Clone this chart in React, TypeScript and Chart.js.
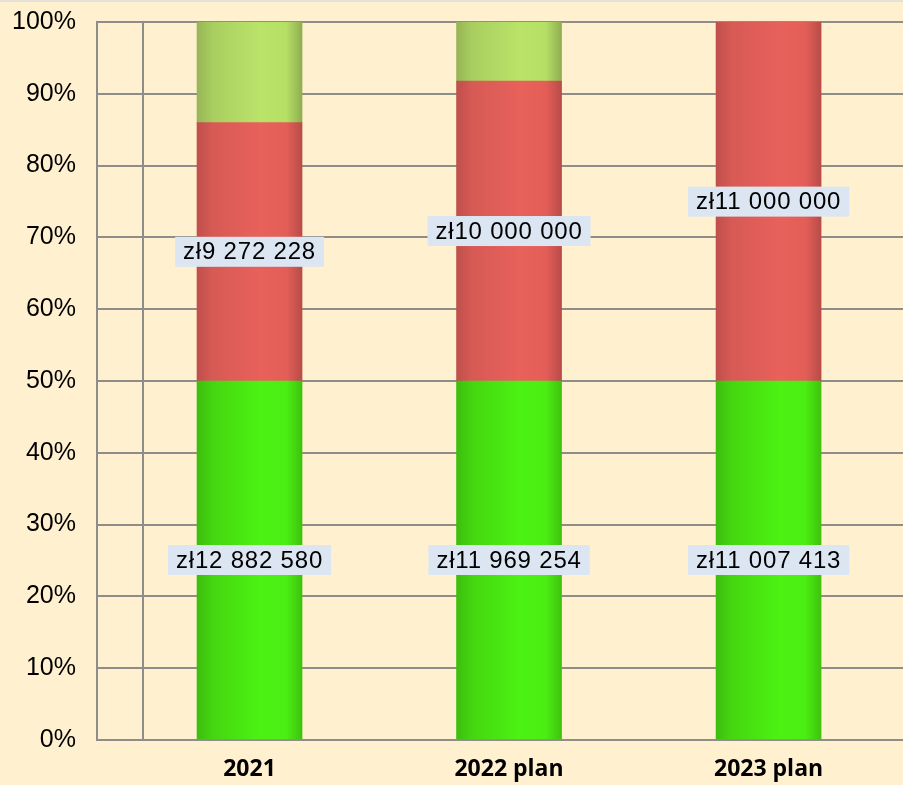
import React, { useEffect, useRef } from "react";
import { Chart, registerables } from "chart.js";

Chart.register(...registerables);

const categories = ["2021", "2022 plan", "2023 plan"];
const baseValues = [12882580, 11969254, 11007413];
const planValues = [9272228, 10000000, 11000000];
const restValues = [3610352, 1969254, 7413];
const yTicks = [0, 10, 20, 30, 40, 50, 60, 70, 80, 90, 100];

const BG = "#fff0cf";
const GRID = "#8f8d88";
const LABEL_BG = "#dce6f2";

const greenStops = ["#3dbd0e", "#45d610", "#4cf212", "#4bee12", "#3fc20e"];
const redStops = ["#bf4f4b", "#d75a55", "#e8615b", "#e45e58", "#b84c48"];
const lightStops = ["#97b555", "#a9ce60", "#bae369", "#b6df66", "#8fae50"];
const stopPos = [0, 0.15, 0.6, 0.85, 1];
const BAR_PX = 105;

const totals = categories.map((_, i) => baseValues[i] + planValues[i] + restValues[i]);
const pct = (arr: number[]) => arr.map((v, i) => ({ x: i, y: (v / totals[i]) * 100 }));

function gradientFor(stops: string[]) {
  return (ctx: any) => {
    const chart = ctx.chart;
    const xs = chart.scales && chart.scales.x;
    if (!xs || ctx.type !== "data" || !chart.chartArea) return stops[2];
    const cx = xs.getPixelForValue(ctx.dataIndex);
    const g = chart.ctx.createLinearGradient(cx - BAR_PX / 2, 0, cx + BAR_PX / 2, 0);
    stops.forEach((c, k) => g.addColorStop(stopPos[k], c));
    return g;
  };
}

const fmt = (v: number) => "zł" + String(v).replace(/\B(?=(\d{3})+(?!\d))/g, " ");

const labelPlugin = {
  id: "segLabels",
  afterDatasetsDraw(chart: any) {
    const c = chart.ctx;
    const rawSets = [baseValues, planValues];
    c.save();
    c.font = "24px 'Liberation Sans', Arial, sans-serif";
    (c as any).letterSpacing = "0.8px";
    c.textAlign = "center";
    c.textBaseline = "middle";
    rawSets.forEach((raw, di) => {
      const meta = chart.getDatasetMeta(di);
      meta.data.forEach((el: any, i: number) => {
        const { x, y, base } = el.getProps(["x", "y", "base"], true);
        const cy = (y + base) / 2;
        const text = fmt(raw[i]);
        const w = c.measureText(text).width + 16;
        const h = 30;
        c.fillStyle = LABEL_BG;
        c.fillRect(x - w / 2, cy - h / 2, w, h);
        c.fillStyle = "#000";
        c.fillText(text, x, cy + 1);
      });
    });
    c.restore();
  },
};

export default function App() {
  const ref = useRef<HTMLCanvasElement>(null);
  useEffect(() => {
    document.body.style.margin = "0";
    const chart = new Chart(ref.current!, {
      type: "bar",
      data: {
        datasets: [
          { label: "base", data: pct(baseValues), backgroundColor: gradientFor(greenStops), barThickness: BAR_PX },
          { label: "plan", data: pct(planValues), backgroundColor: gradientFor(redStops), barThickness: BAR_PX },
          { label: "rest", data: pct(restValues), backgroundColor: gradientFor(lightStops), barThickness: BAR_PX },
        ],
      },
      options: {
        animation: false,
        responsive: true,
        maintainAspectRatio: false,
        layout: { padding: { top: 22, left: 0, right: 0, bottom: 0 } },
        plugins: { legend: { display: false }, tooltip: { enabled: false } },
        scales: {
          x: {
            type: "linear",
            stacked: true,
            offset: false,
            min: -0.5877,
            max: 2.518,
            afterBuildTicks: (s: any) => {
              s.ticks = [-0.41, 0, 1, 2].map((v) => ({ value: v }));
            },
            afterFit: (s: any) => {
              s.height = 45;
              s.paddingLeft = 0;
              s.paddingRight = 0;
            },
            grid: {
              offset: false,
              color: (ctx: any) => (ctx.tick && ctx.tick.value < 0 ? GRID : "rgba(0,0,0,0)"),
              lineWidth: 2,
              drawTicks: false,
            },
            border: { display: true, color: GRID, width: 2 },
            ticks: {
              autoSkip: false,
              maxRotation: 0,
              padding: 16,
              color: "#000",
              font: { family: "'Open Sans', sans-serif", size: 23, weight: "bold" },
              callback: (v: any) => (Number.isInteger(v) && categories[v] !== undefined ? categories[v] : ""),
            },
          },
          y: {
            stacked: true,
            min: 0,
            max: 100,
            afterBuildTicks: (s: any) => {
              s.ticks = yTicks.map((v) => ({ value: v }));
            },
            afterFit: (s: any) => {
              s.width = 97;
              s.paddingTop = 0;
              s.paddingBottom = 0;
            },
            grid: { color: GRID, lineWidth: 2, drawTicks: false },
            border: { display: true, color: GRID, width: 2 },
            ticks: {
              padding: 21,
              color: "#000",
              font: { family: "'Liberation Sans', Arial, sans-serif", size: 25 },
              callback: (v: any) => v + "%",
            },
          },
        },
      },
      plugins: [labelPlugin],
    } as any);
    return () => chart.destroy();
  }, []);
  return (
    <div style={{ position: "relative", width: 903, height: 785, background: BG, overflow: "hidden" }}>
      <div style={{ position: "absolute", left: 0, top: 0, width: 903, height: 2, background: "#e4e1d9" }} />
      <canvas ref={ref} />
    </div>
  );
}
